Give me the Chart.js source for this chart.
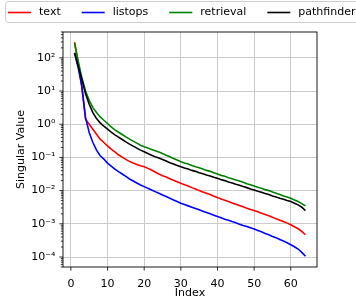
<!DOCTYPE html>
<html>
<head>
<meta charset="utf-8">
<script src="https://cdn.jsdelivr.net/npm/chart.js@4.4.1/dist/chart.umd.min.js"></script>
<style>
  html, body { margin: 0; padding: 0; background: #fff; }
</style>
</head>
<body>
<canvas id="chartCanvas" width="356" height="301"></canvas>
<script>
// singular value index (x)
const indexValues = [
  1, 2, 3, 4, 5, 6, 7, 8, 9, 10, 11, 12, 13, 14, 15, 16,
  17, 18, 19, 20, 21, 22, 23, 24, 25, 26, 27, 28, 29, 30, 31, 32,
  33, 34, 35, 36, 37, 38, 39, 40, 41, 42, 43, 44, 45, 46, 47, 48,
  49, 50, 51, 52, 53, 54, 55, 56, 57, 58, 59, 60, 61, 62, 63, 64
];

const textValues = [
  295, 70.8, 12.6, 1.41, 1.0, 0.708, 0.501, 0.355, 0.282, 0.224, 0.178, 0.148, 0.120, 0.102, 0.0871, 0.0759,
  0.0676, 0.0617, 0.0562, 0.0525, 0.0468, 0.0417, 0.0363, 0.0316, 0.0282, 0.0257, 0.0229, 0.0204, 0.0186, 0.0166, 0.0151, 0.0138,
  0.0123, 0.0112, 0.0100, 0.00912, 0.00832, 0.00759, 0.00676, 0.00617, 0.00562, 0.00513, 0.00468, 0.00427, 0.00389, 0.00355, 0.00324, 0.00295,
  0.00269, 0.00251, 0.00229, 0.00209, 0.00191, 0.00174, 0.00158, 0.00141, 0.00129, 0.00117, 0.00105, 0.000933, 0.000813, 0.000708, 0.000589, 0.000468
];

const listopsValues = [
  141, 50.1, 14.1, 1.58, 0.562, 0.282, 0.166, 0.112, 0.0891, 0.0676, 0.0550, 0.0447, 0.0372, 0.0316, 0.0269, 0.0224,
  0.0195, 0.0170, 0.0148, 0.0132, 0.0117, 0.0105, 0.00933, 0.00832, 0.00741, 0.00661, 0.00589, 0.00525, 0.00468, 0.00417, 0.00380, 0.00347,
  0.00316, 0.00288, 0.00263, 0.00240, 0.00219, 0.00200, 0.00182, 0.00166, 0.00151, 0.00138, 0.00129, 0.00117, 0.00107, 0.000977, 0.000891, 0.000832,
  0.000759, 0.000692, 0.000631, 0.000575, 0.000513, 0.000468, 0.000417, 0.000380, 0.000339, 0.000302, 0.000269, 0.000234, 0.000204, 0.000174, 0.000138, 0.000105
];

const retrievalValues = [
  282, 79.4, 25.1, 10.0, 5.25, 3.16, 2.24, 1.66, 1.32, 1.05, 0.832, 0.676, 0.575, 0.490, 0.417, 0.355,
  0.309, 0.269, 0.234, 0.209, 0.191, 0.174, 0.158, 0.145, 0.132, 0.117, 0.105, 0.0933, 0.0832, 0.0741, 0.0676, 0.0631,
  0.0575, 0.0525, 0.0490, 0.0447, 0.0407, 0.0380, 0.0347, 0.0316, 0.0288, 0.0269, 0.0245, 0.0229, 0.0209, 0.0195, 0.0178, 0.0162,
  0.0151, 0.0138, 0.0126, 0.0117, 0.0107, 0.0100, 0.00912, 0.00832, 0.00759, 0.00692, 0.00646, 0.00589, 0.00525, 0.00468, 0.00407, 0.00347
];

const pathfinderValues = [
  141, 56.2, 22.4, 8.32, 3.98, 2.24, 1.48, 1.10, 0.871, 0.708, 0.575, 0.479, 0.407, 0.347, 0.295, 0.251,
  0.219, 0.191, 0.166, 0.148, 0.132, 0.117, 0.105, 0.0955, 0.0871, 0.0776, 0.0692, 0.0631, 0.0575, 0.0525, 0.0479, 0.0447,
  0.0407, 0.0380, 0.0347, 0.0324, 0.0295, 0.0275, 0.0251, 0.0234, 0.0214, 0.0200, 0.0182, 0.0170, 0.0155, 0.0145, 0.0132, 0.0123,
  0.0112, 0.0105, 0.00955, 0.00891, 0.00813, 0.00759, 0.00692, 0.00646, 0.00589, 0.00550, 0.00501, 0.00468, 0.00417, 0.00372, 0.00316, 0.00251
];

const seriesNames = ['text', 'listops', 'retrieval', 'pathfinder'];
const seriesColors = ['#ff0000', '#0000ff', '#008000', '#000000'];

const xTicks = [0, 10, 20, 30, 40, 50, 60];
const yMajorTicks = [1e-4, 1e-3, 1e-2, 1e-1, 1e0, 1e1, 1e2];
const yTickLabels = ['10\u207B\u2074', '10\u207B\u00B3', '10\u207B\u00B2', '10\u207B\u00B9', '10\u2070', '10\u00B9', '10\u00B2'];

const FONT = { family: '"DejaVu Sans", sans-serif', size: 11 };
const GRID = '#cbcbcb';

const majorIndex = (v) => yMajorTicks.findIndex(t => Math.abs(t - v) / t < 1e-6);

const frameAndTicks = {
  id: 'frameAndTicks',
  afterDatasetsDraw(chart) {
    const { ctx, chartArea: a, scales } = chart;
    ctx.save();
    ctx.strokeStyle = '#000';
    ctx.lineWidth = 0.8;
    ctx.beginPath();
    scales.y.ticks.forEach(t => {
      const py = scales.y.getPixelForValue(t.value);
      const len = majorIndex(t.value) >= 0 ? 3.7 : 2.1;
      ctx.moveTo(a.left - len, py);
      ctx.lineTo(a.left, py);
    });
    scales.x.ticks.forEach(t => {
      const px = scales.x.getPixelForValue(t.value);
      ctx.moveTo(px, a.bottom);
      ctx.lineTo(px, a.bottom + 3.7);
    });
    ctx.stroke();
    ctx.lineWidth = 0.9;
    ctx.strokeRect(a.left, a.top, a.right - a.left, a.bottom - a.top);
    ctx.restore();
  },
  afterDraw(chart) {
    // matplotlib-like legend box across the top
    const { ctx } = chart;
    ctx.save();
    ctx.fillStyle = 'rgba(255,255,255,0.8)';
    ctx.strokeStyle = '#cccccc';
    ctx.lineWidth = 1;
    ctx.beginPath();
    ctx.roundRect(5.5, 1.5, 362, 21, 3);
    ctx.fill();
    ctx.stroke();
    ctx.font = `${FONT.size}px ${FONT.family}`;
    ctx.textBaseline = 'middle';
    let x = 8;
    const y = 12.5;
    chart.data.datasets.forEach(ds => {
      ctx.strokeStyle = ds.borderColor;
      ctx.lineWidth = 1.6;
      ctx.beginPath();
      ctx.moveTo(x, y);
      ctx.lineTo(x + 23, y);
      ctx.stroke();
      ctx.fillStyle = '#000';
      ctx.fillText(ds.label, x + 31, y);
      x = x + 31 + ctx.measureText(ds.label).width + 21;
    });
    ctx.restore();
  }
};

const allValues = [textValues, listopsValues, retrievalValues, pathfinderValues];

const datasets = seriesNames.map((name, k) => ({
  label: name,
  data: indexValues.map((ix, i) => ({ x: ix, y: allValues[k][i] })),
  borderColor: seriesColors[k],
  backgroundColor: seriesColors[k],
  borderWidth: 1.6,
  pointRadius: 0,
  tension: 0,
  fill: false,
  order: seriesNames.length - k
}));

const ctx = document.getElementById('chartCanvas').getContext('2d');
new Chart(ctx, {
  type: 'line',
  data: { datasets },
  options: {
    responsive: false,
    animation: false,
    layout: { padding: { top: 32, right: 39, left: 0, bottom: 0 } },
    plugins: { legend: { display: false }, tooltip: { enabled: false } },
    scales: {
      x: {
        type: 'linear',
        min: -2.15,
        max: 67.15,
        afterBuildTicks: s => { s.ticks = xTicks.map(v => ({ value: v })); },
        afterFit: s => { s.height = 34; },
        ticks: { font: FONT, color: '#000', padding: 7, maxRotation: 0, autoSkip: false, callback: v => String(v) },
        grid: { color: GRID, lineWidth: 1, drawTicks: true, tickLength: 4, tickColor: 'transparent' },
        border: { display: false },
        title: { display: true, text: 'Index', font: FONT, color: '#000', padding: { top: 0, bottom: 1 } }
      },
      y: {
        type: 'logarithmic',
        min: 5e-5,
        max: 600,
        afterBuildTicks: s => {
          const list = [];
          for (let e = -5; e <= 2; e++) {
            for (let m = 1; m <= 9; m++) {
              const v = m * Math.pow(10, e);
              if (v >= 5e-5 && v <= 600) list.push({ value: v });
            }
          }
          s.ticks = list;
        },
        afterFit: s => { s.width = 63; },
        ticks: {
          font: FONT, color: '#000', padding: 3.5, autoSkip: false,
          callback: v => { const k = majorIndex(v); return k >= 0 ? yTickLabels[k] : ''; }
        },
        grid: {
          color: c => (c.tick && majorIndex(c.tick.value) >= 0 ? GRID : 'transparent'),
          lineWidth: 1, drawTicks: true, tickLength: 4, tickColor: 'transparent'
        },
        border: { display: false },
        title: { display: true, text: 'Singular Value', font: FONT, color: '#000', padding: { top: 14.4, bottom: 0 } }
      }
    }
  },
  plugins: [frameAndTicks]
});
</script>
</body>
</html>
